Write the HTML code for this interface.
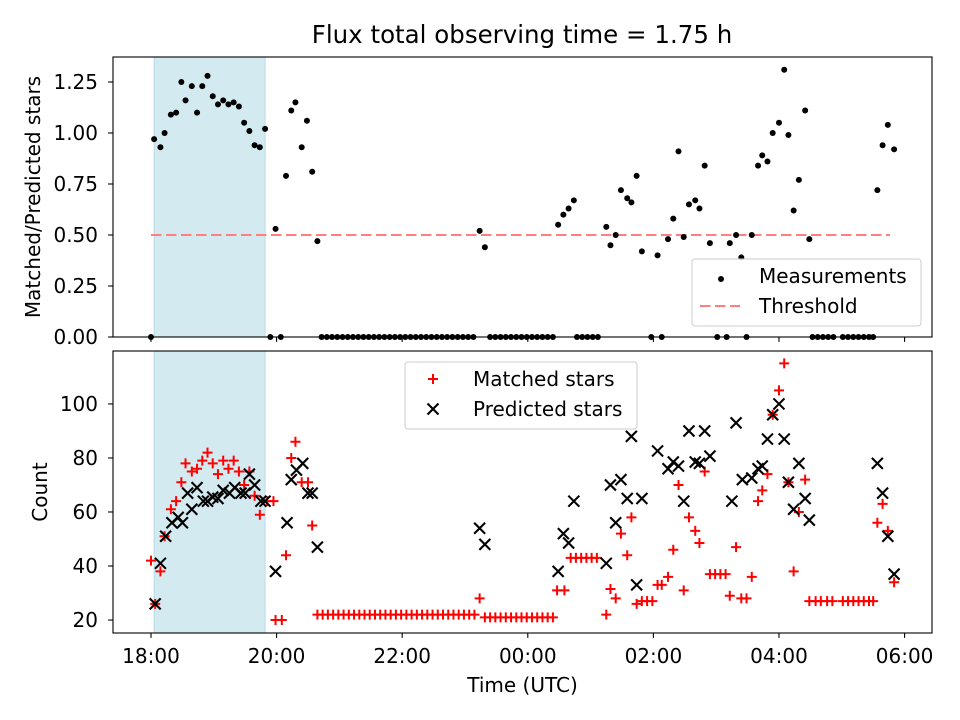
<!DOCTYPE html>
<html><head><meta charset="utf-8">
<style>
html,body{margin:0;padding:0;background:#fff;}
svg{display:block;font-family:"DejaVu Sans","Liberation Sans",sans-serif;}
</style></head>
<body>
<svg id="chart" width="960" height="720" viewBox="0 0 960 720" xmlns="http://www.w3.org/2000/svg">
<text x="522" y="43" font-size="24.5" text-anchor="middle" fill="#000">Flux total observing time = 1.75 h</text>
<g id="topPanel"></g>
<g id="botPanel"></g>
</svg>
<script>
// minutes since 18:00 UTC
const ratioTimes = [3,9,13,19,24,29,33,39,44,49,54,59,64,69,74,79,84,89,94,99,104,109,
 119,129,134,138,144,149,154,159,314,319,389,394,399,404,435,439,444,449,455,459,464,469,
 484,494,499,504,509,514,520,524,529,534,553,559,564,574,580,584,589,594,600,605,609,614,619,625,629,
 694,699,704,710,
 0,114,124,163,168,173,178,183,188,193,198,203,208,213,218,223,228,233,238,243,248,253,258,263,268,273,278,283,288,293,298,303,308,
 324,329,334,339,344,349,354,359,364,369,374,379,384,407,412,417,422,427,478,488,541,550,569,632,637,642,647,652,661,666,671,676,681,686,690];
const ratioValues = [0.97,0.93,1.0,1.09,1.10,1.25,1.16,1.23,1.10,1.23,1.28,1.18,1.14,1.16,1.14,1.15,1.13,1.05,1.01,0.94,0.93,1.02,
 0.53,0.79,1.11,1.15,0.93,1.06,0.81,0.47,0.52,0.44,0.55,0.60,0.63,0.67,0.54,0.45,0.50,0.72,0.68,0.66,0.79,0.42,
 0.40,0.48,0.58,0.91,0.49,0.65,0.67,0.63,0.84,0.46,0.46,0.50,0.39,0.50,0.84,0.89,0.86,1.00,1.05,1.31,0.99,0.62,0.77,1.11,0.48,
 0.72,0.94,1.04,0.92,
 0,0,0,0,0,0,0,0,0,0,0,0,0,0,0,0,0,0,0,0,0,0,0,0,0,0,0,0,0,0,0,0,0,
 0,0,0,0,0,0,0,0,0,0,0,0,0,0,0,0,0,0,0,0,0,0,0,0,0,0,0,0,0,0,0,0,0,0,0];
const thresholdValue = 0.5;
const thresholdRange = [0, 706];
const matchedTimes = [0,4,9,13,19,24,29,33,39,44,49,54,59,64,69,74,79,84,89,94,99,104,111,117,119,125,129,134,138,144,150,154,
 159,164,169,174,179,184,189,194,199,204,209,214,219,224,229,234,239,244,249,254,259,264,269,274,279,284,289,294,299,304,309,
 314,319,324,329,334,339,344,349,354,359,364,369,374,379,384,388,395,401,406,411,416,421,426,435,439,444,449,455,459,464,
 469,474,479,484,488,494,499,504,509,514,520,524,529,534,539,544,549,553,559,564,569,574,580,584,589,594,600,605,609,614,619,625,
 629,635,640,646,651,661,666,671,676,681,686,690,694,699,704,710];
const matchedValues = [42,26,38,51,61,64,71,78,75,76,79,82,78,74,79,76,79,75,70,75,66,59,64,64,20,20,44,80,86,71,71,55,
 22,22,22,22,22,22,22,22,22,22,22,22,22,22,22,22,22,22,22,22,22,22,22,22,22,22,22,22,22,22,22,
 28,21,21,21,21,21,21,21,21,21,21,21,21,21,21,31,31,43,43,43,43,43,43,22,31.5,28,52,44,58,26,
 27,27,27,33,33,36,46,70,31,58,53,48.5,75,37,37,37,37,29,47,28,28,36,64,68,74,96,105,115,71,38,60,72,
 27,27,27,27,27,27,27,27,27,27,27,27,56,63,53,34];
const predTimes = [4,9,14,20,26,30,35,39,44,50,54,59,64,69,75,80,86,90,94,99,105,109,119,130,134,139,145,150,154,159,
 314,319,389,394,399,404,435,439,444,449,455,459,464,469,484,494,499,504,509,514,520,524,529,534,
 555,559,565,574,580,584,589,594,600,605,609,614,619,625,629,694,699,704,710];
const predValues = [26,41,51,56,58,56,67,61,69,64,64,65.5,65,68,67,69,67,67,74,70,64,64,38,56,72,75.5,78,67,67,47,
 54,48,38,52,48.5,64,41,70,56,72,65,88,33,65,82.6,76,78.5,77,64,90,78.5,78,90,80.7,
 64,93,72,72.6,76,77,87,96,100,87,71,61,78,65,57,78,67,51,37];
const xTickTimes = [0,120,240,360,480,600,720];
const xTickLabels = ["18:00","20:00","22:00","00:00","02:00","04:00","06:00"];
const topTicks = [0,0.25,0.5,0.75,1.0,1.25];
const topTickLabels = ["0.00","0.25","0.50","0.75","1.00","1.25"];
const botTicks = [20,40,60,80,100];
const botTickLabels = ["20","40","60","80","100"];
const shadeRange = [3,109];

const NS="http://www.w3.org/2000/svg";
const L=113,R=932;
const xMin=-36.3,xMax=746.2;
const X=m=>L+(m-xMin)/(xMax-xMin)*(R-L);
const tT=57,tB=337,tMin=0,tMax=1.3725;
const YT=v=>tB-(v-tMin)/(tMax-tMin)*(tB-tT);
const bT=351,bB=633,bMin=15.2,bMax=119.6;
const YB=v=>bB-(v-bMin)/(bMax-bMin)*(bB-bT);
const FS=20, PH=5, XH=5.5, DASH='10.5,4.5';
function mk(p,tag,at){const e=document.createElementNS(NS,tag);for(const k in at)e.setAttribute(k,at[k]);p.appendChild(e);return e;}
const topG=document.getElementById('topPanel'),botG=document.getElementById('botPanel');

function axes(g,yT,yB,Y,ticks,labels,ylabel,nm){
  let s=mk(g,'rect',{x:X(shadeRange[0]),y:yT,width:X(shadeRange[1])-X(shadeRange[0]),height:yB-yT,fill:'#d4eaf1',stroke:'#b9dbe6','stroke-width':1});
  
  
  ticks.forEach((t,i)=>{
    let tk=mk(g,'line',{x1:L-4.9,x2:L,y1:Y(t),y2:Y(t),stroke:'#000','stroke-width':1.1});
    
    
    let tx=mk(g,'text',{x:L-15,y:Y(t)+7,'font-size':FS,'text-anchor':'end',fill:'#000'});
    tx.textContent=labels[i];
    
    
  });
  xTickTimes.forEach((t,i)=>{
    let tk=mk(g,'line',{x1:X(t),x2:X(t),y1:yB,y2:yB+4.9,stroke:'#000','stroke-width':1.1});
    
    
  });
  let yl=mk(g,'text',{x:0,y:0,'font-size':FS,'text-anchor':'middle',fill:'#000',transform:`translate(${nm==='top'?40:47},${(yT+yB)/2}) rotate(-90)`});
  yl.textContent=ylabel;
  
  
}
axes(topG,tT,tB,YT,topTicks,topTickLabels,'Matched/Predicted stars','top');
axes(botG,bT,bB,YB,botTicks,botTickLabels,'Count','bottom');

let th=mk(topG,'line',{x1:X(thresholdRange[0]),x2:X(thresholdRange[1]),y1:YT(thresholdValue),y2:YT(thresholdValue),stroke:'#ff7f7f','stroke-width':2.1,'stroke-dasharray':DASH});


ratioTimes.forEach((t,i)=>{
  let c=mk(topG,'circle',{cx:X(t),cy:YT(ratioValues[i]),r:3,fill:'#000'});
  
  
});
matchedTimes.forEach((t,i)=>{
  const x=X(t),y=YB(matchedValues[i]),h=PH;
  let p=mk(botG,'path',{d:`M${x-h},${y}H${x+h}M${x},${y-h}V${y+h}`,stroke:'#ff0000','stroke-width':2,fill:'none'});
  
  
});
predTimes.forEach((t,i)=>{
  const x=X(t),y=YB(predValues[i]),h=XH;
  let p=mk(botG,'path',{d:`M${x-h},${y-h}L${x+h},${y+h}M${x-h},${y+h}L${x+h},${y-h}`,stroke:'#000','stroke-width':2.1,fill:'none'});
  
  
});
[[topG,tT,tB,'top'],[botG,bT,bB,'bottom']].forEach(([g,a,b,n])=>{
  let f=mk(g,'rect',{x:L,y:a,width:R-L,height:b-a,fill:'none',stroke:'#000','stroke-width':1.1});
  
  
});
xTickTimes.forEach((t,i)=>{
  let tx=mk(botG,'text',{x:X(t),y:bB+30,'font-size':FS,'text-anchor':'middle',fill:'#000'});
  tx.textContent=xTickLabels[i];
  
  
});
let xl=mk(botG,'text',{x:(L+R)/2,y:692,'font-size':FS,'text-anchor':'middle',fill:'#000'});
xl.textContent='Time (UTC)';



function legend(g,x,y,w,h,tx,items,nm){
  let b=mk(g,'rect',{x:x,y:y,width:w,height:h,rx:3,fill:'#fff','fill-opacity':0.8,stroke:'#ccc','stroke-width':1});
  
  
  items.forEach((it,i)=>{
    const cy=y+17+i*30, cx=x+28;
    let m;
    if(it.k==='dot') m=mk(g,'circle',{cx:cx+1,cy:cy+3,r:3,fill:'#000'});
    else if(it.k==='dash') m=mk(g,'line',{x1:cx-20,x2:cx+20,y1:cy,y2:cy,stroke:'#ff7f7f','stroke-width':2.1,'stroke-dasharray':DASH});
    else if(it.k==='plus') m=mk(g,'path',{d:`M${cx-PH},${cy}H${cx+PH}M${cx},${cy-PH}V${cy+PH}`,stroke:'#f00','stroke-width':2,fill:'none'});
    else m=mk(g,'path',{d:`M${cx-XH},${cy-XH}L${cx+XH},${cy+XH}M${cx-XH},${cy+XH}L${cx+XH},${cy-XH}`,stroke:'#000','stroke-width':2.1,fill:'none'});
    
    
    let t=mk(g,'text',{x:x+tx,y:cy+7,'font-size':FS,fill:'#000'});
    t.textContent=it.t;
    
    
  });
}
legend(topG,692,259,229,67,67,[{k:'dot',t:'Measurements'},{k:'dash',t:'Threshold'}],'top-legend');
legend(botG,405,362,232,67,68,[{k:'plus',t:'Matched stars'},{k:'x',t:'Predicted stars'}],'bottom-legend');
</script>
</body></html>
